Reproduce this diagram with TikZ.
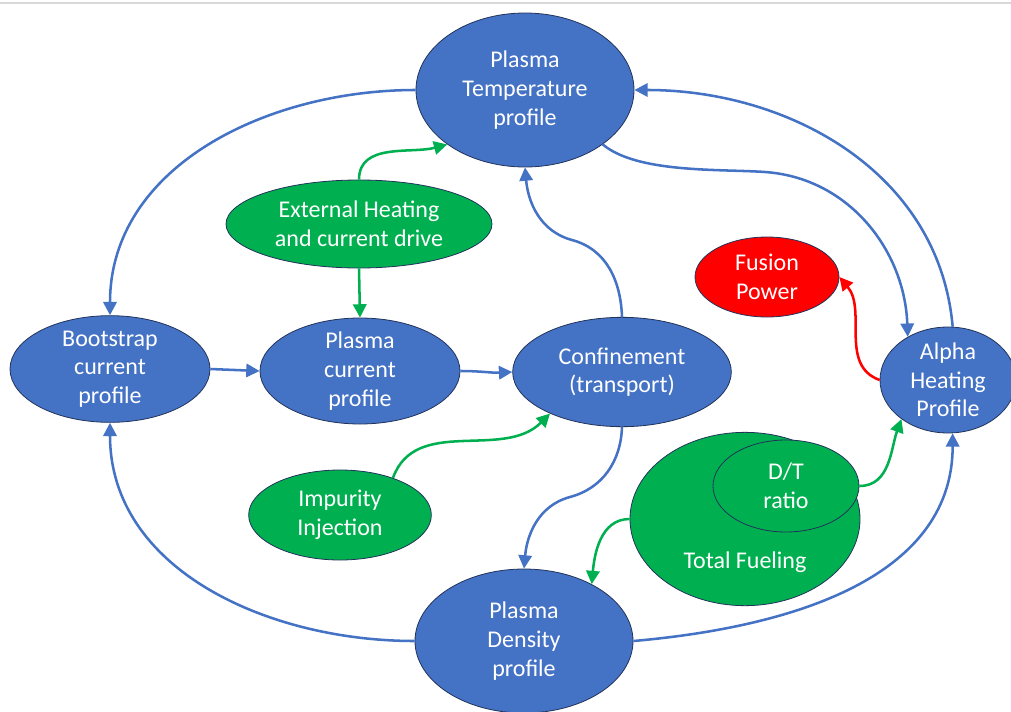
\documentclass[tikz,border=0pt]{standalone}
\usepackage{fontspec}
\setmainfont{Carlito}
\usetikzlibrary{arrows.meta,shapes.geometric,positioning}
\definecolor{plasmablue}{HTML}{4472C4}
\definecolor{heatgreen}{HTML}{00B050}
\definecolor{fusionred}{HTML}{FF0000}
\definecolor{rimnavy}{HTML}{22335A}
\definecolor{framegray}{HTML}{D9D9D9}

\begin{document}
\begin{tikzpicture}[x=0.75pt,y=-0.75pt,
  labeltext/.style={text=white,align=center,font=\fontsize{18}{21.5}\selectfont},
  oval/.style={ellipse,draw=rimnavy,line width=0.6pt,labeltext,
    inner xsep=0pt,inner ysep=-6pt},
  bluenode/.style={oval,fill=plasmablue},
  greennode/.style={oval,fill=heatgreen},
  rednode/.style={oval,fill=fusionred},
  link/.style={line width=1.9pt,-{Triangle[length=10pt,width=10pt]}},
  bluelink/.style={link,color=plasmablue},
  greenlink/.style={link,color=heatgreen},
  redlink/.style={link,color=fusionred}]
\useasboundingbox (0,0) rectangle (1011,711);
\clip (0,0) rectangle (1011,711);
\draw[framegray,line width=1.5pt] (0,3) -- (1011,3);

% main loop
\node[bluenode,minimum width=163.5pt,minimum height=115.5pt] (temp) at (525,90) {Plasma\\Temperature\\profile};
\node[bluenode,minimum width=150pt,minimum height=80pt] (boot) at (110,369) {Bootstrap\\current\\profile};
\node[bluenode,minimum width=150pt,minimum height=79.5pt] (cur) at (360,371) {Plasma\\current\\profile};
\node[bluenode,minimum width=164pt,minimum height=82pt] (conf) at (622,372) {Confinement\\(transport)};
\node[bluenode,minimum width=102pt,minimum height=79.5pt] (alpha) at (948,380) {Alpha\\Heating\\Profile};
\node[bluenode,minimum width=163.5pt,minimum height=108pt] (dens) at (524,641) {Plasma\\Density\\profile};

% actuators
\node[greennode,minimum width=199.5pt,minimum height=66pt] (ext) at (359,224) {External Heating\\and current drive};
\node[greennode,minimum width=137pt,minimum height=67.5pt] (imp) at (340,515) {Impurity\\Injection};
\node[greennode,minimum width=172.5pt,minimum height=130pt] (fuel) at (745,519) {};
\node[labeltext] (fueltxt) at (745,562) {Total Fueling};
\node[greennode,minimum width=109.5pt,minimum height=69pt] (dt) at (786,486) {D/T\\ratio};
\node[rednode,minimum width=108pt,minimum height=60pt] (fus) at (767,277) {Fusion\\Power};

\draw[bluelink] (temp.west) to[out=180,in=90] (boot.north);
\draw[bluelink] (dens.west) to[out=180,in=270] (boot.south);
\draw[bluelink] (boot.east) -- (cur.west);
\draw[bluelink] (cur.east) to[out=0,in=183] (conf.west);
\draw[bluelink] (conf.north) to[out=92,in=-15] (572,240) to[out=165,in=275] (temp.south);
\draw[bluelink] (conf.south) to[out=268,in=15] (570,497) to[out=195,in=85] (dens.north);
\draw[bluelink] (temp.-35) to[out=-40,in=176,looseness=0.7] (765,172) to[out=-4,in=92] (alpha.133);
\draw[bluelink] (alpha.85) to[out=95,in=0] (temp.east);
\draw[bluelink] (dens.east) to[out=5,in=270] (alpha.-85);

\draw[greenlink] (ext.north) to[out=90,in=195] (temp.215);
\draw[greenlink] (ext.south) -- (cur.north);
\draw[greenlink] (imp.35) to[out=70,in=225] (conf.210);
\draw[greenlink] (fuel.west) to[out=180,in=85] (dens.40);
\draw[greenlink] (dt.east) to[out=0,in=250] (alpha.220);

\draw[redlink] (alpha.west) to[out=160,in=-50] (fus.east);
\end{tikzpicture}
\end{document}
